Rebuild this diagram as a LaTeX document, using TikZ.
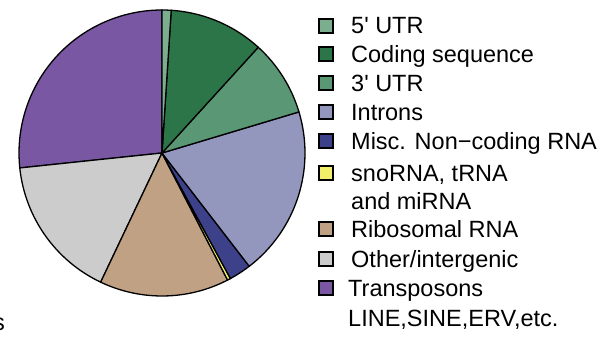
\documentclass[tikz,border=0pt]{standalone}
\usepackage{fontspec}
\setmainfont{Liberation Sans}[Ligatures=TeXOff]
\definecolor{cUTRfive}{HTML}{7BAE8F}
\definecolor{cCoding}{HTML}{2C7548}
\definecolor{cUTRthree}{HTML}{5A9775}
\definecolor{cIntron}{HTML}{9497BD}
\definecolor{cMisc}{HTML}{3D418A}
\definecolor{cSno}{HTML}{F2F06A}
\definecolor{cRibo}{HTML}{C1A184}
\definecolor{cOther}{HTML}{CCCCCC}
\definecolor{cTrans}{HTML}{7A57A3}
\tikzset{
  slice/.style={draw=black, line width=1.3pt, line join=round},
  legbox/.style={draw=black, line width=2pt, minimum size=14pt, inner sep=0pt},
  legtext/.style={anchor=base west, inner sep=0pt, font=\fontsize{23.5}{28}\selectfont}
}
\newcommand{\pieslice}[3]{%
  \filldraw[slice, fill=#3] (162,-153) -- ++(#1:143) arc[start angle=#1, end angle=#2, radius=143] -- cycle;}
\begin{document}
\begin{tikzpicture}[x=1pt,y=1pt]
\useasboundingbox (0,0) rectangle (603,-337);
\pieslice{90}{186}{cTrans}
\pieslice{186}{244.6}{cOther}
\pieslice{244.6}{297.3}{cRibo}
\pieslice{297.3}{298.6}{cSno}
\pieslice{298.6}{307.6}{cMisc}
\pieslice{307.6}{376.7}{cIntron}
\pieslice{376.7}{407.7}{cUTRthree}
\pieslice{407.7}{446.3}{cCoding}
\pieslice{446.3}{450}{cUTRfive}
% legend
\node[legbox, fill=cUTRfive] (b1) at (326,-25.8) {};
\node[legtext] (t1) at (351,-34) {5' UTR};
\node[legbox, fill=cCoding] (b2) at (326,-54.5) {};
\node[legtext] (t2) at (351,-63) {Coding sequence};
\node[legbox, fill=cUTRthree] (b3) at (326,-83) {};
\node[legtext] (t3) at (351,-91.5) {3' UTR};
\node[legbox, fill=cIntron] (b4) at (326,-112) {};
\node[legtext] (t4) at (351,-120.5) {Introns};
\node[legbox, fill=cMisc] (b5) at (326,-141) {};
\node[legtext] (t5) at (351,-149.5) {Misc. Non−coding RNA};
\node[legbox, fill=cSno] (b6) at (326,-172.5) {};
\node[legtext] (t6) at (351,-181) {snoRNA, tRNA};
\node[legtext] (t6b) at (351,-209.5) {and miRNA};
\node[legbox, fill=cRibo] (b7) at (326,-229) {};
\node[legtext] (t7) at (351,-237.5) {Ribosomal RNA};
\node[legbox, fill=cOther] (b8) at (326,-258.5) {};
\node[legtext] (t8) at (351,-267) {Other/intergenic};
\node[legbox, fill=cTrans] (b9) at (326,-287.5) {};
\node[legtext] (t9) at (348,-296.5) {Transposons};
\node[legtext] (t9b) at (348,-326.5) {LINE,SINE,ERV,etc.};
\node[anchor=base east, inner sep=0pt, font=\fontsize{23.5}{28}\selectfont] (frag) at (5,-330) {s};
\end{tikzpicture}
\end{document}
